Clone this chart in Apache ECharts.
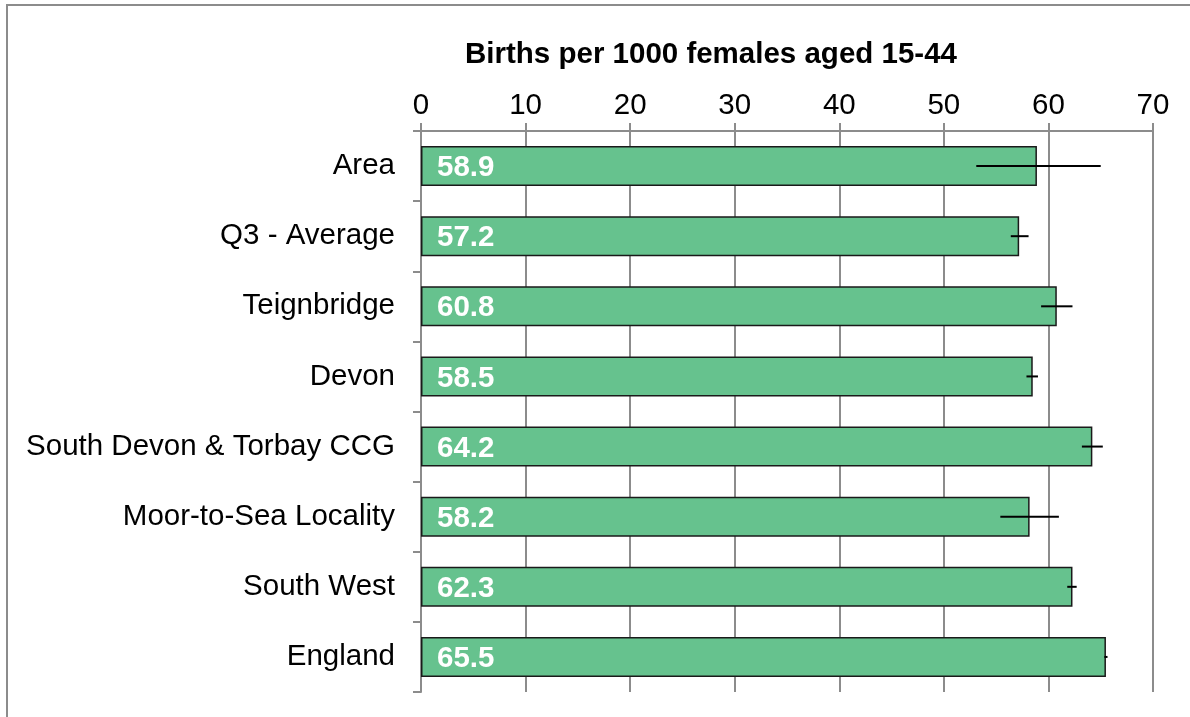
<!DOCTYPE html>
<html><head><meta charset="utf-8">
<script src="https://cdn.jsdelivr.net/npm/echarts@6/dist/echarts.min.js"></script>
<style>html,body{margin:0;padding:0;background:#fff}#c{width:1190px;height:717px}</style>
</head><body><div id="c"></div>
<script>
const categories = ["Area","Q3 - Average","Teignbridge","Devon","South Devon & Torbay CCG","Moor-to-Sea Locality","South West","England"];
const values = [58.9,57.2,60.8,58.5,64.2,58.2,62.3,65.5];
const lowerCI = [53.1,56.4,59.3,57.9,63.2,55.4,61.8,65.35];
const upperCI = [65.0,58.1,62.3,59.0,65.2,61.0,62.7,65.65];
const axisTitle = "Births per 1000 females aged 15-44";

const chart = echarts.init(document.getElementById('c'));
const font = "'Liberation Sans', Arial, sans-serif";
const fs = 29.5;
const errData = categories.map((c,i)=>[lowerCI[i], upperCI[i], i]);
chart.setOption({
  animation:false,
  textStyle:{fontFamily:font},
  graphic:[
    {type:'rect',shape:{x:7,y:5,width:1300,height:900},style:{fill:'none',stroke:'#8c8c8c',lineWidth:2},z:-10},
    {type:'text',x:711,y:55,style:{text:axisTitle,font:'bold '+fs+'px '+font,fill:'#000',textAlign:'center',textVerticalAlign:'middle'}}
  ],
  grid:{left:421,right:37,top:131,bottom:25},
  xAxis:{type:'value',position:'top',min:0,max:70,interval:10,
    axisLine:{show:true,lineStyle:{color:'#8c8c8c',width:2}},
    axisTick:{show:true,length:8,lineStyle:{color:'#8c8c8c',width:2}},
    axisLabel:{fontFamily:font,fontSize:fs,color:'#000',margin:10},
    splitLine:{show:true,lineStyle:{color:'#8c8c8c',width:2}}},
  yAxis:{type:'category',data:categories,inverse:true,
    axisLine:{show:true,lineStyle:{color:'#8c8c8c',width:2}},
    axisTick:{show:true,length:8,lineStyle:{color:'#8c8c8c',width:2}},
    axisLabel:{fontFamily:font,fontSize:fs,color:'#000',margin:26},
    splitLine:{show:false}},
  series:[
    {type:'bar',data:values,barWidth:40,
     itemStyle:{color:'#66C28E',borderColor:'#1a1a1a',borderWidth:1.5},
     label:{show:true,position:'insideLeft',offset:[2,2],distance:14,formatter:p=>p.value.toFixed(1),
       fontFamily:font,fontSize:fs,fontWeight:'bold',color:'#fff'}},
    {type:'custom',data:errData,encode:{x:[0,1],y:2},z:10,
     renderItem:(params,api)=>{
       const a=api.coord([api.value(0),api.value(2)]);
       const b=api.coord([api.value(1),api.value(2)]);
       return {type:'line',shape:{x1:a[0],y1:a[1],x2:b[0],y2:b[1]},style:{stroke:'#000',lineWidth:2}};
     }}
  ]
});
</script></body></html>
